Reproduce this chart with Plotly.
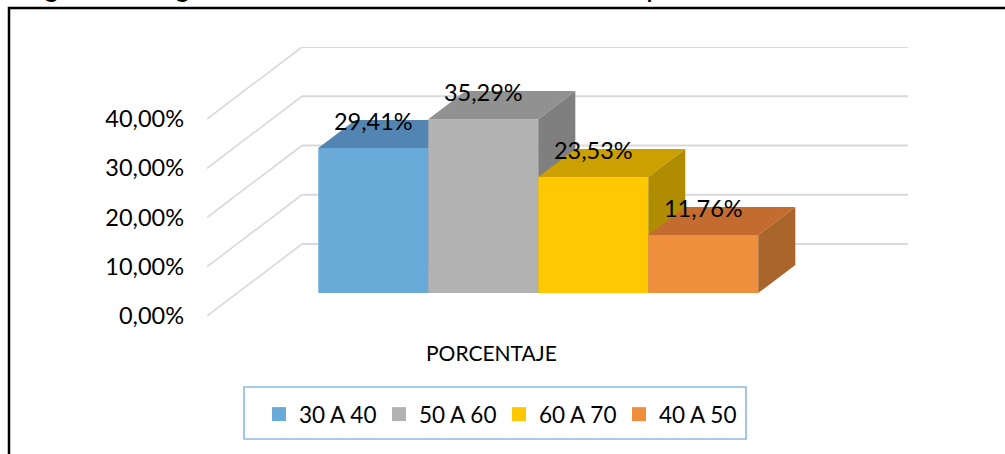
import plotly.graph_objects as go

# ---------------- data ----------------
categories = ["30 A 40", "50 A 60", "60 A 70", "40 A 50"]
values = [29.41, 35.29, 23.53, 11.76]
value_labels = ["29,41%", "35,29%", "23,53%", "11,76%"]
tick_values = [0, 10, 20, 30, 40]
tick_labels = ["0,00%", "10,00%", "20,00%", "30,00%", "40,00%"]
axis_title = "PORCENTAJE"
header_text = "Figura 1: Ingresados, distribución etaria de la población"

# ---------------- styles ----------------
front_colors = ["#6AAAD9", "#B2B2B2", "#FFC800", "#EF8E3D"]
top_colors = ["#5385B2", "#919191", "#CBA000", "#C46C30"]
side_colors = ["#4B7AA6", "#7F7F7F", "#B08D00", "#A9652A"]
grid_color = "#D9D9D9"
FONT = "Lato"

W, H = 1005, 454
PL, PR, PT, PB = 207, 908, 47, 316          # plot box in pixels
FRONT_W_PX = 606                             # width of the front floor edge
DEPTH_DX_PX, DEPTH_DY_PX = 95, 72            # oblique depth offset
PX_PER_PCT = 4.925
LABEL_DROP_PX = 4

XR = (PR - PL) / FRONT_W_PX
YR = (PB - PT) / PX_PER_PCT
DX = DEPTH_DX_PX / FRONT_W_PX
DY = DEPTH_DY_PX / PX_PER_PCT

BAR_W = 0.1815
GROUP_CENTER = 0.4965
Z0, Z1 = 0.32, 0.71


def px_x(p):
    return (p - PL) / (PR - PL)


def px_y(p):
    return (PB - p) / (PB - PT)


fig = go.Figure()

# walls: left-side diagonals and back-wall lines
for t in tick_values:
    fig.add_trace(go.Scatter(x=[0, DX], y=[t, t + DY], mode="lines",
                             line=dict(color=grid_color, width=1.6),
                             showlegend=False, hoverinfo="skip"))
    fig.add_trace(go.Scatter(x=[DX, XR], y=[t + DY, t + DY], mode="lines",
                             line=dict(color=grid_color, width=2.2),
                             showlegend=False, hoverinfo="skip"))

n = len(values)
start = GROUP_CENTER - n * BAR_W / 2
ox0, oy0 = Z0 * DX, Z0 * DY
ox1, oy1 = Z1 * DX, Z1 * DY
label_x, label_y = [], []
for i, v in enumerate(values):
    xl = start + i * BAR_W
    xr = xl + BAR_W
    # front
    fig.add_trace(go.Scatter(
        x=[xl + ox0, xr + ox0, xr + ox0, xl + ox0, xl + ox0],
        y=[oy0, oy0, v + oy0, v + oy0, oy0],
        fill="toself", fillcolor=front_colors[i], mode="lines",
        line=dict(width=0, color=front_colors[i]),
        showlegend=False, hoverinfo="skip"))
    # top
    fig.add_trace(go.Scatter(
        x=[xl + ox0, xr + ox0, xr + ox1, xl + ox1, xl + ox0],
        y=[v + oy0, v + oy0, v + oy1, v + oy1, v + oy0],
        fill="toself", fillcolor=top_colors[i], mode="lines",
        line=dict(width=0, color=top_colors[i]),
        showlegend=False, hoverinfo="skip"))
    # side
    fig.add_trace(go.Scatter(
        x=[xr + ox0, xr + ox1, xr + ox1, xr + ox0, xr + ox0],
        y=[oy0, oy1, v + oy1, v + oy0, oy0],
        fill="toself", fillcolor=side_colors[i], mode="lines",
        line=dict(width=0, color=side_colors[i]),
        showlegend=False, hoverinfo="skip"))
    label_x.append((xl + xr) / 2 + ox0)
    label_y.append(v + oy1 - LABEL_DROP_PX / PX_PER_PCT)

# data labels
fig.add_trace(go.Scatter(x=label_x, y=label_y, mode="text", text=value_labels,
                         textposition="middle center",
                         textfont=dict(family=FONT, size=23.5, color="black"),
                         showlegend=False, hoverinfo="skip"))

# legend entries
for name, col in zip(categories, front_colors):
    fig.add_trace(go.Scatter(x=[None], y=[None], mode="markers", name=name,
                             marker=dict(symbol="square", size=14, color=col)))

fig.update_layout(
    width=W, height=H,
    margin=dict(l=PL, r=W - PR, t=PT, b=H - PB, pad=0),
    paper_bgcolor="white", plot_bgcolor="white",
    font=dict(family=FONT, size=22, color="black"),
    xaxis=dict(range=[0, XR], visible=False, fixedrange=True),
    yaxis=dict(range=[0, YR], tickvals=tick_values, ticktext=tick_labels,
               showgrid=False, zeroline=False, showline=False, ticks="",
               ticklabelstandoff=22, fixedrange=True,
               tickfont=dict(family=FONT, size=23.5, color="black")),
    legend=dict(orientation="h", x=px_x(259), y=px_y(393), xanchor="left", yanchor="top",
                entrywidth=75, bgcolor="rgba(0,0,0,0)", borderwidth=0,
                font=dict(family=FONT, size=22.5, color="black")),
    showlegend=True,
    annotations=[
        dict(text=axis_title, x=px_x(491), y=px_y(352), xref="paper", yref="paper",
             showarrow=False, xanchor="center", yanchor="middle",
             font=dict(family=FONT, size=21, color="black")),
        dict(text=header_text, x=px_x(15), y=px_y(4.5), xref="paper", yref="paper",
             showarrow=False, xanchor="left", yanchor="bottom",
             font=dict(family="Liberation Sans", size=31, color="black")),
    ],
    shapes=[
        dict(type="rect", xref="paper", yref="paper",
             x0=px_x(244), x1=px_x(746), y0=px_y(387), y1=px_y(439),
             line=dict(color="#8DB8E2", width=1.6), fillcolor="rgba(0,0,0,0)"),
        dict(type="rect", xref="paper", yref="paper",
             x0=px_x(9), x1=px_x(1015), y0=px_y(8), y1=px_y(470),
             line=dict(color="black", width=2.5), fillcolor="rgba(0,0,0,0)"),
    ],
)

fig.write_html("out.html")
